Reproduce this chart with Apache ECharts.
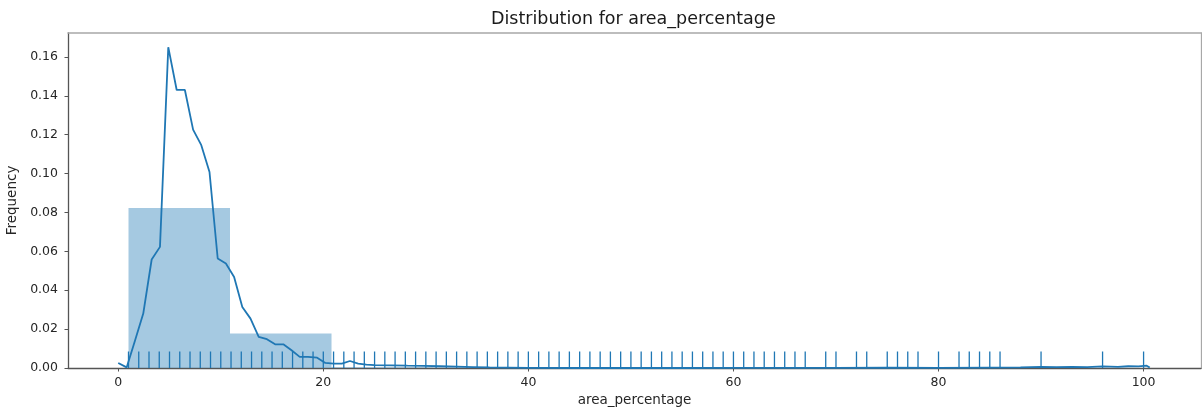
<!DOCTYPE html>
<html>
<head>
<meta charset="utf-8">
<script src="https://cdn.jsdelivr.net/npm/echarts@6/dist/echarts.min.js"></script>
<style>
  html, body { margin: 0; padding: 0; background: #ffffff; }
  #chart { width: 1202px; height: 410px; }
</style>
</head>
<body>
<div id="chart"></div>
<script>
// Histogram bin edges and density heights
const binEdges = [1, 10.9, 20.8, 30.7, 40.6, 50.5, 60.4, 70.3, 80.2, 90.1, 100];
const binDensity = [0.0823, 0.0177, 0.0004, 0.0002, 0.0001, 0.0001, 0.0001, 0.0001, 0.00005, 0.00005];

// Kernel density estimate, [area_percentage, density]
const kdePoints = [
  [0.0, 0.0026], [0.82, 0.0003], [1.63, 0.014], [2.44, 0.028], [3.26, 0.0558],
  [4.07, 0.0623], [4.88, 0.165], [5.7, 0.143], [6.5, 0.143], [7.3, 0.1226],
  [8.1, 0.1146], [8.9, 0.1008], [9.7, 0.0563], [10.5, 0.0537], [11.3, 0.0468],
  [12.1, 0.0314], [12.9, 0.0254], [13.7, 0.016], [14.5, 0.0148], [15.3, 0.0122],
  [16.1, 0.0122], [16.9, 0.0091], [17.7, 0.0057], [18.5, 0.0057], [19.4, 0.0053],
  [20.2, 0.0026], [21.0, 0.0023], [21.8, 0.0023], [22.6, 0.0036], [23.4, 0.0023],
  [24.2, 0.0017], [25.0, 0.0015], [26.6, 0.0014], [28.2, 0.0012], [29.8, 0.0011],
  [31.4, 0.0009], [33.0, 0.0007], [34.6, 0.0005], [36.2, 0.0003], [38.0, 0.0002],
  [40.0, 0.0001], [45.0, 0.0], [50.0, 0.0001], [55.0, 0.0], [60.0, 0.0001],
  [65.0, 0.0001], [70.0, 0.0001], [75.0, 0.0002], [80.0, 0.0001], [85.0, 0.0002],
  [88.0, 0.0003], [90.0, 0.0006], [91.5, 0.0004], [93.0, 0.0006], [94.5, 0.0005],
  [96.0, 0.0008], [97.5, 0.0006], [98.5, 0.0009], [99.5, 0.0008], [100.3, 0.0012],
  [100.6, 0.0002]
];

// Distinct observed values, drawn as a rug along the x axis
const rugValues = [
  1, 2, 3, 4, 5, 6, 7, 8, 9, 10, 11, 12, 13, 14, 15, 16, 17, 18, 19, 20,
  21, 22, 23, 24, 25, 26, 27, 28, 29, 30, 31, 32, 33, 34, 35, 36, 37, 38, 39, 40,
  41, 42, 43, 44, 45, 46, 47, 48, 49, 50, 51, 52, 53, 54, 55, 56, 57, 58, 59, 60,
  61, 62, 63, 64, 65, 66, 67, 69, 70, 72, 73, 75, 76, 77, 78, 80, 82, 83, 84, 85,
  86, 90, 96, 100
];

const xTicks = [0, 20, 40, 60, 80, 100];
const yTicks = [0, 0.02, 0.04, 0.06, 0.08, 0.10, 0.12, 0.14, 0.16];

const BLUE = '#1f77b4';
const FONT = 'DejaVu Sans';
const X_MIN = -4.9, X_MAX = 105.6, Y_MAX = 0.1723;

const histData = binDensity.map((h, i) => [binEdges[i], binEdges[i + 1], h]);

const chart = echarts.init(document.getElementById('chart'), null, { renderer: 'canvas' });

chart.setOption({
  animation: false,
  backgroundColor: '#ffffff',
  title: {
    text: 'Distribution for area_percentage',
    left: 486, top: 5,
    textStyle: { fontFamily: FONT, fontSize: 17.5, fontWeight: 'normal', color: '#1a1a1a' }
  },
  grid: { left: 68, right: 1, top: 33, bottom: 42, containLabel: false, outerBoundsMode: 'none' },
  xAxis: [{
    type: 'value', min: X_MIN, max: X_MAX,
    name: 'area_percentage', nameLocation: 'middle', nameGap: 25,
    nameTextStyle: { fontFamily: FONT, fontSize: 13.5, color: '#262626' },
    axisLine: { show: true, onZero: false, lineStyle: { color: '#555', width: 1.3 } },
    axisTick: { show: true, length: 3.5, customValues: xTicks, lineStyle: { color: '#555' } },
    axisLabel: { customValues: xTicks, margin: 8, fontFamily: FONT, fontSize: 12.5, color: '#262626' },
    splitLine: { show: false }
  }, {
    type: 'value', position: 'top', min: X_MIN, max: X_MAX,
    axisLine: { show: true, onZero: false, lineStyle: { color: '#a8a8a8', width: 1.6 } },
    axisTick: { show: false }, axisLabel: { show: false }, splitLine: { show: false }
  }],
  yAxis: [{
    type: 'value', min: 0, max: Y_MAX,
    name: 'Frequency', nameLocation: 'middle', nameGap: 44,
    nameTextStyle: { fontFamily: FONT, fontSize: 13.5, color: '#262626' },
    axisLine: { show: true, onZero: false, lineStyle: { color: '#555', width: 1.3 } },
    axisTick: { show: true, length: 3.5, customValues: yTicks, lineStyle: { color: '#555' } },
    axisLabel: {
      customValues: yTicks, margin: 10, fontFamily: FONT, fontSize: 12.5, color: '#262626',
      formatter: v => v.toFixed(2)
    },
    splitLine: { show: false }
  }, {
    type: 'value', position: 'right', min: 0, max: Y_MAX,
    axisLine: { show: true, onZero: false, lineStyle: { color: '#a8a8a8', width: 1.3 } },
    axisTick: { show: false }, axisLabel: { show: false }, splitLine: { show: false }
  }],
  series: [{
    name: 'histogram',
    type: 'custom',
    z: 1,
    data: histData,
    encode: { x: [0, 1], y: 2 },
    renderItem: (params, api) => {
      const p0 = api.coord([api.value(0), api.value(2)]);
      const p1 = api.coord([api.value(1), 0]);
      return {
        type: 'rect',
        shape: { x: p0[0], y: p0[1], width: p1[0] - p0[0], height: p1[1] - p0[1] },
        style: { fill: BLUE, opacity: 0.4 }
      };
    }
  }, {
    name: 'rug',
    type: 'custom',
    z: 2,
    data: rugValues.map(v => [v, 0]),
    encode: { x: 0, y: 1 },
    renderItem: (params, api) => {
      const p = api.coord([api.value(0), 0]);
      return {
        type: 'line',
        shape: { x1: p[0], y1: p[1], x2: p[0], y2: p[1] - 16.5 },
        style: { stroke: BLUE, lineWidth: 1.3 }
      };
    }
  }, {
    name: 'kde',
    type: 'line',
    z: 3,
    data: kdePoints,
    showSymbol: false,
    symbol: 'none',
    lineStyle: { color: BLUE, width: 1.8 }
  }]
});
</script>
</body>
</html>
